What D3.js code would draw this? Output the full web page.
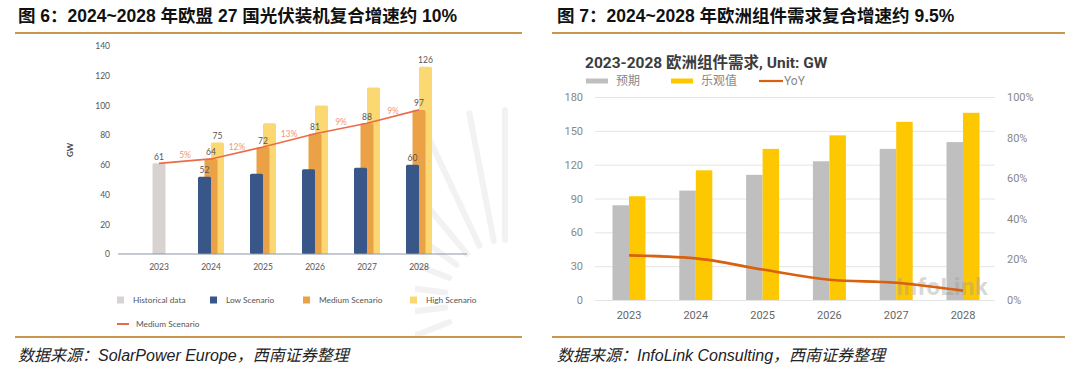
<!DOCTYPE html>
<html>
<head>
<meta charset="utf-8">
<style>
  body { margin: 0; background: #fff; }
  svg { display: block; }
  .ttl { font-family: "Liberation Sans", "Noto Sans CJK SC", sans-serif; font-weight: bold; font-size: 17.5px; fill: #111; }
  .src { font-family: "Liberation Sans", "Noto Sans CJK SC", sans-serif; font-style: italic; font-size: 16px; fill: #222; }
  .lft text { font-family: Lato, "Open Sans", sans-serif; }
  .rgt text { font-family: Roboto, "Noto Sans CJK SC", sans-serif; }
</style>
</head>
<body>
<script src="https://cdn.jsdelivr.net/npm/d3@7/dist/d3.min.js"></script>
<script>

// ---- left chart data (EU27 PV installs, GW)
var years = ["2023", "2024", "2025", "2026", "2027", "2028"];
var historical = [61, null, null, null, null, null];
var lowScen = [null, 52, 54, 57, 58, 60];
var medScen = [null, 64, 72, 81, 88, 97];
var highScen = [null, 75, 88, 100, 112, 126];
var medLine = [61, 64, 72, 81, 88, 97];
var growth = ["5%", "12%", "13%", "9%", "9%"];
var leftTicks = [0, 20, 40, 60, 80, 100, 120, 140];

// ---- right chart data (Europe module demand, GW)
var expected = [84, 97, 111, 123, 134, 140];
var optimistic = [92, 115, 134, 146, 158, 166];
var yoy = [0.22, 0.205, 0.15, 0.10, 0.085, 0.046];
var rightTicks = [0, 30, 60, 90, 120, 150, 180];
var pctTicks = [0, 0.2, 0.4, 0.6, 0.8, 1];

var svg = d3.select("body").append("svg")
	.attr("width", 1080)
	.attr("height", 369);

// titles, rules, sources
svg.append("text").attr("class", "ttl").attr("x", 18).attr("y", 22)
	.text("图 6：2024~2028 年欧盟 27 国光伏装机复合增速约 10%");
svg.append("text").attr("class", "ttl").attr("x", 557).attr("y", 22)
	.text("图 7：2024~2028 年欧洲组件需求复合增速约 9.5%");
[[15, 522], [552, 1065]].forEach(function(r) {
	svg.append("line").attr("x1", r[0]).attr("x2", r[1]).attr("y1", 33).attr("y2", 33)
		.attr("stroke", "#c9974d").attr("stroke-width", 2);
	svg.append("line").attr("x1", r[0]).attr("x2", r[1]).attr("y1", 337).attr("y2", 337)
		.attr("stroke", "#c9974d").attr("stroke-width", 2);
});
svg.append("text").attr("class", "src").attr("x", 18).attr("y", 361)
	.text("数据来源：SolarPower Europe，西南证券整理");
svg.append("text").attr("class", "src").attr("x", 557).attr("y", 361)
	.text("数据来源：InfoLink Consulting，西南证券整理");

// ================= left chart =================
var L = svg.append("g").attr("class", "lft");

// faint sunburst watermark (right edge of the panel)
L.append("clipPath").attr("id", "sunclip").append("rect")
	.attr("x", 415).attr("y", 60).attr("width", 105).attr("height", 276);
var rays = [0.88, 0.96, 1.04, 1.12, 1.2, 1.28, 1.36, 1.44, 1.5];
L.append("g").attr("clip-path", "url(#sunclip)")
	.selectAll("line").data(rays).enter().append("line")
	.attr("x1", d => 505 + 60 * Math.cos(Math.PI * d))
	.attr("y1", d => 300 + 60 * Math.sin(Math.PI * d))
	.attr("x2", d => 505 + 190 * Math.cos(Math.PI * d))
	.attr("y2", d => 300 + 190 * Math.sin(Math.PI * d))
	.attr("stroke", "#f2f2f2").attr("stroke-width", 6).attr("stroke-linecap", "round");

var xL = d3.scaleBand().domain(years).range([133, 445]);
var yL = d3.scaleLinear().domain([0, 140]).range([254, 46]);
var cx = d => xL(d) + xL.bandwidth() / 2;
var bw = 13, off = 6.5;

var yAxL = L.append("g").attr("transform", "translate(110,0)")
	.call(d3.axisLeft(yL).tickValues(leftTicks).tickSize(0).tickPadding(0));
yAxL.select(".domain").remove();
yAxL.selectAll("text").attr("font-size", 8.5).attr("fill", "#555");

L.append("text").attr("transform", "translate(73,150) rotate(-90)")
	.attr("text-anchor", "middle").attr("font-size", 8).attr("font-weight", "bold").attr("fill", "#444")
	.text("GW");

function barsL(vals, dx, color) {
	L.append("g").selectAll("rect")
		.data(years.map((y, i) => ({ y: y, v: vals[i] })).filter(d => d.v != null))
		.enter().append("rect")
		.attr("x", d => cx(d.y) + dx - bw / 2)
		.attr("y", d => yL(d.v))
		.attr("width", bw)
		.attr("height", d => yL(0) - yL(d.v))
		.attr("rx", 1.5)
		.attr("fill", color);
}
barsL(historical, 0, "#d8d3d0");
barsL(highScen, off, "#fcd872");
barsL(medScen, 0, "#eba247");
barsL(lowScen, -off, "#385788");

L.append("line").attr("x1", 118).attr("x2", 467).attr("y1", yL(0)).attr("y2", yL(0))
	.attr("stroke", "#8a93a6").attr("stroke-width", 1);

var xAxL = L.append("g").attr("transform", `translate(0,${yL(0)})`)
	.call(d3.axisBottom(xL).tickSize(0).tickPadding(10));
xAxL.select(".domain").remove();
xAxL.selectAll("text").attr("font-size", 8.5).attr("fill", "#555");

// medium scenario line
L.append("path").datum(medLine)
	.attr("d", d3.line().x((d, i) => cx(years[i])).y(d => yL(d)))
	.attr("fill", "none").attr("stroke", "#ea6b48").attr("stroke-width", 1.6);

L.append("g").selectAll("text").data(growth).enter().append("text")
	.attr("x", (d, i) => (cx(years[i]) + cx(years[i + 1])) / 2)
	.attr("y", (d, i) => (yL(medLine[i]) + yL(medLine[i + 1])) / 2 - 3)
	.attr("text-anchor", "middle").attr("font-size", 8.5).attr("fill", "#f0967a")
	.text(d => d);

// data labels
var dl = [
	{ y: "2023", v: 61, dx: 0 },
	{ y: "2024", v: 52, dx: -off },
	{ y: "2024", v: 64, dx: 0 },
	{ y: "2024", v: 75, dx: off },
	{ y: "2025", v: 72, dx: 0 },
	{ y: "2026", v: 81, dx: 0 },
	{ y: "2027", v: 88, dx: 0 },
	{ y: "2028", v: 97, dx: 0 },
	{ y: "2028", v: 60, dx: -off },
	{ y: "2028", v: 126, dx: off }
];
L.append("g").selectAll("text").data(dl).enter().append("text")
	.attr("x", d => cx(d.y) + d.dx)
	.attr("y", d => yL(d.v) - 3.5)
	.attr("text-anchor", "middle").attr("font-size", 8.5).attr("fill", "#555")
	.text(d => d.v);

// legend
var legL = [
	{ t: "Historical data", c: "#d8d3d0", x: 117 },
	{ t: "Low Scenario", c: "#385788", x: 210 },
	{ t: "Medium Scenario", c: "#eba247", x: 303 },
	{ t: "High Scenario", c: "#fcd872", x: 410 }
];
var lg = L.append("g").selectAll("g").data(legL).enter().append("g")
	.attr("transform", d => `translate(${d.x},300)`);
lg.append("rect").attr("x", 0).attr("y", -3.5).attr("width", 7).attr("height", 7).attr("fill", d => d.c);
lg.append("text").attr("x", 16).attr("y", 3).attr("font-size", 8.3).attr("fill", "#555").text(d => d.t);
L.append("line").attr("x1", 117).attr("x2", 129).attr("y1", 324).attr("y2", 324)
	.attr("stroke", "#ea6b48").attr("stroke-width", 2);
L.append("text").attr("x", 136).attr("y", 327).attr("font-size", 8.3).attr("fill", "#555").text("Medium Scenario");

// ================= right chart =================
var R = svg.append("g").attr("class", "rgt");

var xR = d3.scaleBand().domain(years).range([595.6, 996.4]);
var yR = d3.scaleLinear().domain([0, 180]).range([300, 97]);
var yP = d3.scaleLinear().domain([0, 1]).range([300, 97]);
var cr = d => xR(d) + xR.bandwidth() / 2;

var gridR = R.append("g").attr("transform", "translate(595,0)")
	.call(d3.axisLeft(yR).tickValues(rightTicks).tickSize(-400).tickPadding(12));
gridR.select(".domain").remove();
gridR.selectAll("line").attr("stroke", "#e4e4e4");
gridR.selectAll("text").attr("font-size", 11).attr("fill", "#888");

var pAx = R.append("g").attr("transform", "translate(1007,0)")
	.call(d3.axisRight(yP).tickValues(pctTicks).tickSize(0).tickPadding(0).tickFormat(d3.format(".0%")));
pAx.select(".domain").remove();
pAx.selectAll("text").attr("font-size", 11).attr("fill", "#888");

var xAxR = R.append("g").attr("transform", "translate(0,300)")
	.call(d3.axisBottom(xR).tickSize(0).tickPadding(11));
xAxR.select(".domain").remove();
xAxR.selectAll("text").attr("font-size", 11).attr("fill", "#666");

var bwR = 16.5;
R.append("g").selectAll("rect").data(expected).enter().append("rect")
	.attr("x", (d, i) => cr(years[i]) - bwR)
	.attr("y", d => yR(d)).attr("width", bwR).attr("height", d => yR(0) - yR(d))
	.attr("fill", "#bfbfbf");
R.append("g").selectAll("rect").data(optimistic).enter().append("rect")
	.attr("x", (d, i) => cr(years[i]))
	.attr("y", d => yR(d)).attr("width", bwR).attr("height", d => yR(0) - yR(d))
	.attr("fill", "#fdc800");

R.append("text").attr("x", 896).attr("y", 295).attr("font-size", 24).attr("font-weight", "bold")
	.attr("fill", "#999").attr("fill-opacity", 0.4).attr("letter-spacing", 0.5).text("InfoLink");

R.append("path").datum(yoy)
	.attr("d", d3.line().curve(d3.curveMonotoneX).x((d, i) => cr(years[i])).y(d => yP(d)))
	.attr("fill", "none").attr("stroke", "#d9600e").attr("stroke-width", 2.6);

R.append("text").attr("x", 585).attr("y", 68).attr("font-size", 15.5).attr("font-weight", "bold")
	.attr("fill", "#3c3c3c").text("2023-2028 欧洲组件需求, Unit: GW");

R.append("rect").attr("x", 586).attr("y", 78.5).attr("width", 22).attr("height", 5).attr("fill", "#bfbfbf");
R.append("text").attr("x", 616).attr("y", 85).attr("font-size", 12).attr("fill", "#888").text("预期");
R.append("rect").attr("x", 671).attr("y", 78.5).attr("width", 22).attr("height", 5).attr("fill", "#fdc800");
R.append("text").attr("x", 701).attr("y", 85).attr("font-size", 12).attr("fill", "#888").text("乐观值");
R.append("line").attr("x1", 759).attr("x2", 783).attr("y1", 81).attr("y2", 81)
	.attr("stroke", "#d9600e").attr("stroke-width", 2.2);
R.append("text").attr("x", 784).attr("y", 85).attr("font-size", 12).attr("fill", "#888").text("YoY");

</script>
</body>
</html>
